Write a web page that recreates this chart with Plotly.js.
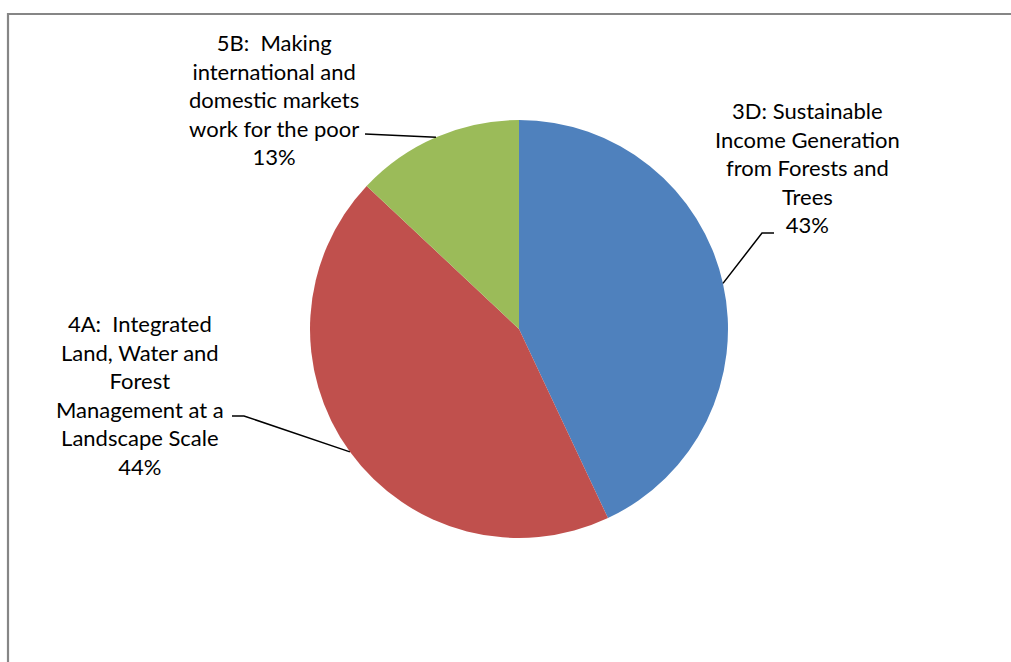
<!DOCTYPE html>
<html><head><meta charset="utf-8">
<script src="https://cdn.plot.ly/plotly-3.0.1.min.js"></script>
<style>html,body{margin:0;padding:0;background:#fff;}#chart{width:1011px;height:662px;}</style>
</head><body><div id="chart"></div>
<script>
const categories = ["3D: Sustainable Income Generation from Forests and Trees",
  "4A:  Integrated Land, Water and Forest Management at a Landscape Scale",
  "5B:  Making international and domestic markets work for the poor"];
const labelText = ["3D: Sustainable<br>Income Generation<br>from Forests and<br>Trees",
  "4A:  Integrated<br>Land, Water and<br>Forest<br>Management at a<br>Landscape Scale",
  "5B:  Making<br>international and<br>domestic markets<br>work for the poor"];
const values = [43, 44, 13];
const colors = ["#4F81BD", "#C0504D", "#9BBB59"];

const W = 1011, H = 662;
const cx = 519, cy = 329, R = 209;
const px = x => x / W, py = y => 1 - y / H;

// label anchor positions (pixels) and elbow geometry
const labelPos = [{x: 807, y: 167}, {x: 140, y: 395}, {x: 274, y: 100}];
const elbows = [
  [[774, 233], [762, 233]],
  [[232, 416], [244, 416]],
  [[365, 134]]
];

const total = values.reduce((a, b) => a + b, 0);
let cum = 0;
const shapes = [];
const annotations = [];
values.forEach((v, i) => {
  const mid = (cum + v / 2) / total * 2 * Math.PI;
  cum += v;
  const ex = cx + R * Math.sin(mid), ey = cy - R * Math.cos(mid);
  const pts = elbows[i].concat([[ex, ey]]);
  let d = "M " + px(pts[0][0]) + "," + py(pts[0][1]);
  for (let k = 1; k < pts.length; k++) d += " L " + px(pts[k][0]) + "," + py(pts[k][1]);
  shapes.push({type: "path", xref: "paper", yref: "paper", path: d,
    line: {color: "#000", width: 1.5}});
  const pct = Math.round(v / total * 100) + "%";
  annotations.push({xref: "paper", yref: "paper", x: px(labelPos[i].x), y: py(labelPos[i].y),
    xanchor: "center", yanchor: "middle", showarrow: false, align: "center",
    text: labelText[i] + "<br>" + pct,
    font: {family: "Lato, 'Open Sans', sans-serif", size: 22, color: "#000"}});
});

shapes.push({type: "rect", xref: "paper", yref: "paper",
  x0: px(8), x1: px(1020), y0: py(680), y1: py(14),
  line: {color: "#868686", width: 2.2}, layer: "above"});

const data = [{
  type: "pie", labels: categories, values: values, sort: false, direction: "clockwise",
  rotation: 0, textinfo: "none", hoverinfo: "label+percent",
  marker: {colors: colors, line: {width: 0}},
  domain: {x: [px(cx - R), px(cx + R)], y: [py(cy + R), py(cy - R)]}
}];
const layout = {width: W, height: H, margin: {l: 0, r: 0, t: 0, b: 0},
  showlegend: false, paper_bgcolor: "#fff", shapes: shapes, annotations: annotations};
Plotly.newPlot("chart", data, layout, {displayModeBar: false, staticPlot: true});
</script></body></html>
